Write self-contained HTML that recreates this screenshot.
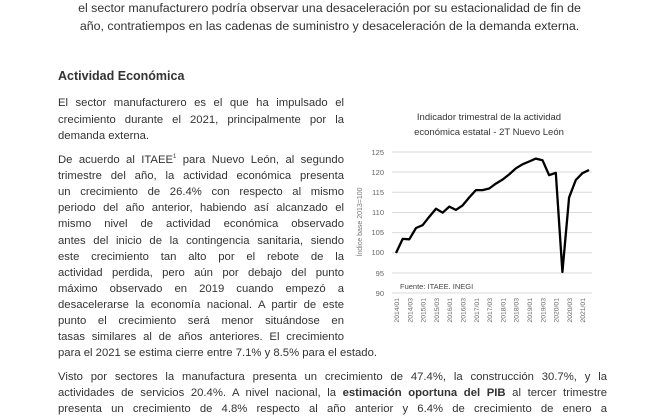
<!DOCTYPE html>
<html><head><meta charset="utf-8"><style>
body{margin:0;width:659px;height:412px;background:#fff;overflow:hidden;position:relative;font-family:"Liberation Sans",sans-serif;color:#333}
.l{position:absolute;left:58px;width:286px;font-size:11.3px;white-space:nowrap;text-align:justify;text-align-last:justify;line-height:13px}
.w{width:549px}
.n{text-align-last:left}
.c{position:absolute;left:0;width:659px;text-align:center;font-size:12.4px;white-space:nowrap;line-height:14px}
sup{font-size:6px;line-height:0;vertical-align:5px}
</style></head><body>
<div class="c" style="top:1px">el sector manufacturero podría observar una desaceleración por su estacionalidad de fin de</div>
<div class="c" style="top:19px">año, contratiempos en las cadenas de suministro y desaceleración de la demanda externa.</div>
<div class="l n" style="top:70px;font-weight:bold;font-size:12.5px;color:#333">Actividad Económica</div>
<div class="l" style="top:97px">El sector manufacturero es el que ha impulsado el</div>
<div class="l" style="top:114px">crecimiento durante el 2021, principalmente por la</div>
<div class="l n" style="top:130px">demanda externa.</div>
<div class="l" style="top:154px">De acuerdo al ITAEE<sup>1</sup> para Nuevo León, al segundo</div>
<div class="l" style="top:170px">trimestre del año, la actividad económica presenta</div>
<div class="l" style="top:186px">un crecimiento de 26.4% con respecto al mismo</div>
<div class="l" style="top:202px">periodo del año anterior, habiendo así alcanzado el</div>
<div class="l" style="top:218px">mismo nivel de actividad económica observado</div>
<div class="l" style="top:235px">antes del inicio de la contingencia sanitaria, siendo</div>
<div class="l" style="top:251px">este crecimiento tan alto por el rebote de la</div>
<div class="l" style="top:267px">actividad perdida, pero aún por debajo del punto</div>
<div class="l" style="top:283px">máximo observado en 2019 cuando empezó a</div>
<div class="l" style="top:299px">desacelerarse la economía nacional. A partir de este</div>
<div class="l" style="top:315px">punto el crecimiento será menor situándose en</div>
<div class="l" style="top:331px">tasas similares al de años anteriores. El crecimiento</div>
<div class="l n" style="top:347px;width:auto">para el 2021 se estima cierre entre 7.1% y 8.5% para el estado.</div>
<div class="l w" style="top:371px">Visto por sectores la manufactura presenta un crecimiento de 47.4%, la construcción 30.7%, y la</div>
<div class="l w" style="top:387px">actividades de servicios 20.4%. A nivel nacional, la <b>estimación oportuna del PIB</b> al tercer trimestre</div>
<div class="l w" style="top:403px">presenta un crecimiento de 4.8% respecto al año anterior y 6.4% de crecimiento de enero a</div>
<svg style="position:absolute;left:0;top:0" width="659" height="412" font-family="Liberation Sans, sans-serif">
<text x="489" y="120" font-size="9.5" text-anchor="middle" fill="#333">Indicador trimestral de la actividad</text>
<text x="489" y="135" font-size="9.5" text-anchor="middle" fill="#333">económica estatal - 2T Nuevo León</text>
<g stroke="#d9d9d9" stroke-width="1">
<line x1="392" x2="592" y1="152" y2="152"/><line x1="392" x2="592" y1="172" y2="172"/><line x1="392" x2="592" y1="192.3" y2="192.3"/><line x1="392" x2="592" y1="212.5" y2="212.5"/><line x1="392" x2="592" y1="232.6" y2="232.6"/><line x1="392" x2="592" y1="252.8" y2="252.8"/><line x1="392" x2="592" y1="273" y2="273"/><line x1="392" x2="592" y1="293" y2="293"/>
</g>
<g font-size="7.5" fill="#666" text-anchor="end">
<text x="384" y="155">125</text><text x="384" y="175">120</text><text x="384" y="195">115</text><text x="384" y="215">110</text><text x="384" y="235">105</text><text x="384" y="255">100</text><text x="384" y="276">95</text><text x="384" y="296">90</text>
</g>
<text transform="translate(362,222) rotate(-90)" font-size="7" fill="#777" text-anchor="middle">Índice base 2013=100</text>
<text x="400" y="289" font-size="7.5" fill="#444">Fuente: ITAEE. INEGI</text>
<polyline fill="none" stroke="#000" stroke-width="2.3" stroke-linejoin="round" points="396,253 402.7,238.9 409.3,239.3 416,228 422.6,225.2 429.3,216.7 436,208.7 442.6,212.7 449.3,206.6 455.9,209.9 462.6,205.4 469.3,197.4 475.9,190.1 482.6,190.1 489.2,188.5 495.9,183.6 502.5,179.6 509.2,174.4 515.9,168.3 522.5,164.3 529.2,161.5 535.8,158.6 542.5,160.2 549.1,175.2 555.8,172.8 562.4,272 569.1,197.4 575.8,180 582.4,173.2 589,170"/>
<g font-size="6.8" fill="#666" text-anchor="end">
<text transform="translate(399,298) rotate(-90)">2014/01</text>
<text transform="translate(412.3,298) rotate(-90)">2014/03</text>
<text transform="translate(425.6,298) rotate(-90)">2015/01</text>
<text transform="translate(438.9,298) rotate(-90)">2015/03</text>
<text transform="translate(452.2,298) rotate(-90)">2016/01</text>
<text transform="translate(465.5,298) rotate(-90)">2016/03</text>
<text transform="translate(478.8,298) rotate(-90)">2017/01</text>
<text transform="translate(492.1,298) rotate(-90)">2017/03</text>
<text transform="translate(505.4,298) rotate(-90)">2018/01</text>
<text transform="translate(518.7,298) rotate(-90)">2018/03</text>
<text transform="translate(532,298) rotate(-90)">2019/01</text>
<text transform="translate(545.3,298) rotate(-90)">2019/03</text>
<text transform="translate(558.6,298) rotate(-90)">2020/01</text>
<text transform="translate(571.9,298) rotate(-90)">2020/03</text>
<text transform="translate(585.2,298) rotate(-90)">2021/01</text>
</g>
</svg>
</body></html>
